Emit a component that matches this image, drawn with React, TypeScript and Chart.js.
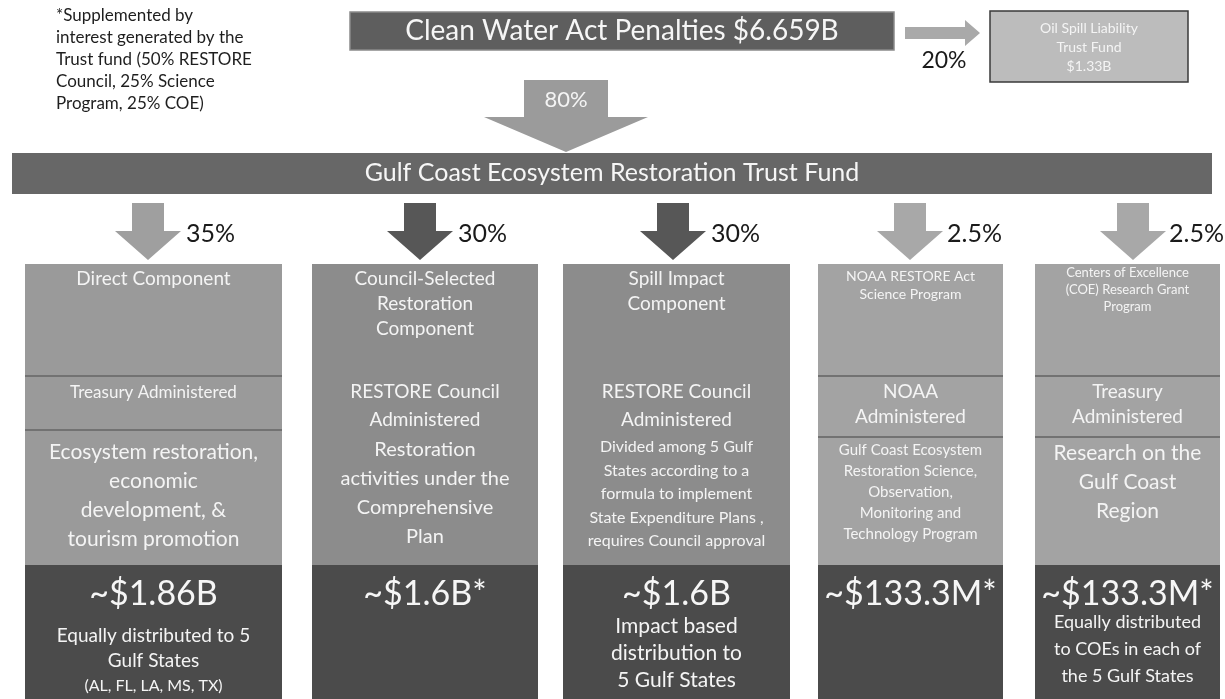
import React, { useEffect, useRef } from 'react';
import { Chart, registerables } from 'chart.js';
Chart.register(...registerables);

// ---------------- data ----------------
const footnoteLines = [
  '*Supplemented by',
  'interest generated by the',
  'Trust fund (50% RESTORE',
  'Council, 25% Science',
  'Program, 25% COE)',
];
const sourceLabel = 'Clean Water Act Penalties $6.659B';
const trustShare = '80%';
const oilShare = '20%';
const oilFundLines = ['Oil Spill Liability', 'Trust Fund', '$1.33B'];
const trustFundLabel = 'Gulf Coast Ecosystem Restoration Trust Fund';
const componentShares = ['35%', '30%', '30%', '2.5%', '2.5%'];
const componentNames = [
  ['Direct Component'],
  ['Council-Selected', 'Restoration', 'Component'],
  ['Spill Impact', 'Component'],
  ['NOAA RESTORE Act', 'Science Program'],
  ['Centers of Excellence', '(COE) Research Grant', 'Program'],
];
const componentAdmins = [
  ['Treasury Administered'],
  ['RESTORE Council', 'Administered'],
  ['RESTORE Council', 'Administered'],
  ['NOAA', 'Administered'],
  ['Treasury', 'Administered'],
];
const componentPurposes = [
  ['Ecosystem restoration,', 'economic', 'development, &', 'tourism promotion'],
  ['Restoration', 'activities under the', 'Comprehensive', 'Plan'],
  ['Divided among 5 Gulf', 'States according to a', 'formula to implement', 'State Expenditure Plans ,', 'requires Council approval'],
  ['Gulf Coast Ecosystem', 'Restoration Science,', 'Observation,', 'Monitoring and', 'Technology Program'],
  ['Research on the', 'Gulf Coast', 'Region'],
];
const componentAmounts = ['~$1.86B', '~$1.6B*', '~$1.6B', '~$133.3M*', '~$133.3M*'];
const componentDistributions = [
  ['Equally distributed to 5', 'Gulf States', '(AL, FL, LA, MS, TX)'],
  [],
  ['Impact based', 'distribution to', '5 Gulf States'],
  [],
  ['Equally distributed', 'to COEs in each of', 'the 5 Gulf States'],
];

// ---------------- layout & style ----------------
const W = 1225;
const H = 699;
const FONT = 'Lato, "Open Sans", sans-serif';
const colX = [[25, 282], [312, 538], [563, 790], [818, 1003], [1035, 1220]];
const arrowCx = [148, 420, 673, 910, 1133];
const shareX = [186, 458, 711, 947, 1169];
const boxTop = 264;
const darkTop = 565;
const sep1 = [376, 376, 376, 376, 376];
const sep2 = [430, 433, 433, 437, 437];
const sepCols = [true, false, false, true, true];
const titleY = [279, 279, 279, 276, 273];
const titleGap = [26, 25, 25, 18, 17];
const titleFont = [19, 19, 19, 14, 13];
const adminY = [393, 392, 392, 392, 392];
const adminGap = [28, 28, 28, 25, 25];
const adminFont = [17, 19, 19, 19, 19];
const purposeY = [452, 450, 447, 450, 453];
const purposeGap = [29, 29, 23.5, 21, 29];
const purposeFont = [21, 20, 16, 15, 21];
const amountY = 594;
const amountFont = 34;
const distY = [636, 0, 626, 0, 622];
const distGap = [25, 0, 27, 0, 27];
const distFont = [[19, 19, 16], [], [21, 21, 21], [], [18, 18, 18]];
const upperFill = ['#9a9a9a', '#8c8c8c', '#8c8c8c', '#a3a3a3', '#a3a3a3'];
const lowerFill = '#4b4b4b';
const arrowFill = ['#9f9f9f', '#575757', '#575757', '#a8a8a8', '#a8a8a8'];

const diagramPlugin = {
  id: 'diagram',
  afterDraw(chart: any) {
    const ctx: CanvasRenderingContext2D = chart.ctx;
    const xs = chart.scales.x;
    const ys = chart.scales.y;
    const X = (v: number) => xs.getPixelForValue(v);
    const Y = (v: number) => ys.getPixelForValue(v);

    const rect = (x1: number, y1: number, x2: number, y2: number, fill: string, stroke?: string) => {
      ctx.fillStyle = fill;
      ctx.fillRect(X(x1), Y(y1), X(x2) - X(x1), Y(y2) - Y(y1));
      if (stroke) {
        ctx.strokeStyle = stroke;
        ctx.lineWidth = 1.5;
        ctx.strokeRect(X(x1), Y(y1), X(x2) - X(x1), Y(y2) - Y(y1));
      }
    };
    const text = (s: string, x: number, y: number, size: number, color: string, align: CanvasTextAlign = 'center') => {
      ctx.font = `${size}px ${FONT}`;
      ctx.fillStyle = color;
      ctx.textAlign = align;
      ctx.textBaseline = 'middle';
      ctx.fillText(s, X(x), Y(y));
    };
    const downArrow = (cx: number, top: number, sw: number, hw: number, headTop: number, tip: number, fill: string) => {
      ctx.beginPath();
      ctx.moveTo(X(cx - sw), Y(top));
      ctx.lineTo(X(cx + sw), Y(top));
      ctx.lineTo(X(cx + sw), Y(headTop));
      ctx.lineTo(X(cx + hw), Y(headTop));
      ctx.lineTo(X(cx), Y(tip));
      ctx.lineTo(X(cx - hw), Y(headTop));
      ctx.lineTo(X(cx - sw), Y(headTop));
      ctx.closePath();
      ctx.fillStyle = fill;
      ctx.fill();
    };

    ctx.save();
    rect(0, 0, W, H, '#ffffff');

    // footnote
    footnoteLines.forEach((l, i) => text(l, 56, 16 + i * 22, 17, '#1e1e1e', 'left'));

    // source box
    rect(350, 12, 894, 50, '#5e5e5e', '#8a8a8a');
    text(sourceLabel, 622, 31, 28, '#f6f6f6');

    // right arrow to oil fund
    ctx.beginPath();
    ctx.moveTo(X(905), Y(27));
    ctx.lineTo(X(965), Y(27));
    ctx.lineTo(X(965), Y(20));
    ctx.lineTo(X(980), Y(33));
    ctx.lineTo(X(965), Y(46));
    ctx.lineTo(X(965), Y(39));
    ctx.lineTo(X(905), Y(39));
    ctx.closePath();
    ctx.fillStyle = '#a9a9a9';
    ctx.fill();
    text(oilShare, 944, 61, 23, '#1a1a1a');

    // oil fund box
    rect(990, 11, 1188, 82, '#bcbcbc', '#3a3a3a');
    oilFundLines.forEach((l, i) => text(l, 1089, 28 + i * 19, 14, '#f4f4f4'));

    // 80% arrow
    downArrow(566, 80, 42, 82, 117, 152, '#9b9b9b');
    text(trustShare, 566, 100, 22, '#f4f4f4');

    // trust fund bar
    rect(12, 153, 1212, 194, '#676767');
    text(trustFundLabel, 612, 173, 25, '#f6f6f6');

    // component arrows + shares
    componentShares.forEach((s, i) => {
      downArrow(arrowCx[i], 203, 16, 33, 231, 260, arrowFill[i]);
      text(s, shareX[i], 234, 25, '#1a1a1a', 'left');
    });

    // component boxes
    colX.forEach(([x1, x2], i) => {
      const cx = (x1 + x2) / 2;
      rect(x1, boxTop, x2, darkTop, upperFill[i]);
      rect(x1, darkTop, x2, H, lowerFill);
      if (sepCols[i]) {
        rect(x1, sep1[i] - 1, x2, sep1[i] + 1, '#727272');
        rect(x1, sep2[i] - 1, x2, sep2[i] + 1, '#727272');
      }
      componentNames[i].forEach((l, j) => text(l, cx, titleY[i] + j * titleGap[i], titleFont[i], '#f4f4f4'));
      componentAdmins[i].forEach((l, j) => text(l, cx, adminY[i] + j * adminGap[i], adminFont[i], '#f4f4f4'));
      componentPurposes[i].forEach((l, j) => text(l, cx, purposeY[i] + j * purposeGap[i], purposeFont[i], '#f4f4f4'));
      text(componentAmounts[i], cx, amountY, amountFont, '#f6f6f6');
      componentDistributions[i].forEach((l, j) => text(l, cx, distY[i] + j * distGap[i], distFont[i][j], '#f4f4f4'));
    });
    ctx.restore();
  },
};

export default function App() {
  const ref = useRef<HTMLCanvasElement | null>(null);
  useEffect(() => {
    document.body.style.margin = '0';
    const canvas = ref.current;
    if (!canvas) return;
    const chart = new Chart(canvas, {
      type: 'scatter',
      data: { datasets: [{ data: [] }] },
      options: {
        animation: false,
        responsive: false,
        maintainAspectRatio: false,
        devicePixelRatio: 1,
        events: [],
        layout: { padding: 0 },
        plugins: { legend: { display: false }, tooltip: { enabled: false } },
        scales: {
          x: { type: 'linear', min: 0, max: W, display: false },
          y: { type: 'linear', min: 0, max: H, reverse: true, display: false },
        },
      },
      plugins: [diagramPlugin],
    } as any);
    return () => chart.destroy();
  }, []);
  return (
    <div style={{ width: W, height: H }}>
      <canvas ref={ref} width={W} height={H} style={{ display: 'block' }} />
    </div>
  );
}
